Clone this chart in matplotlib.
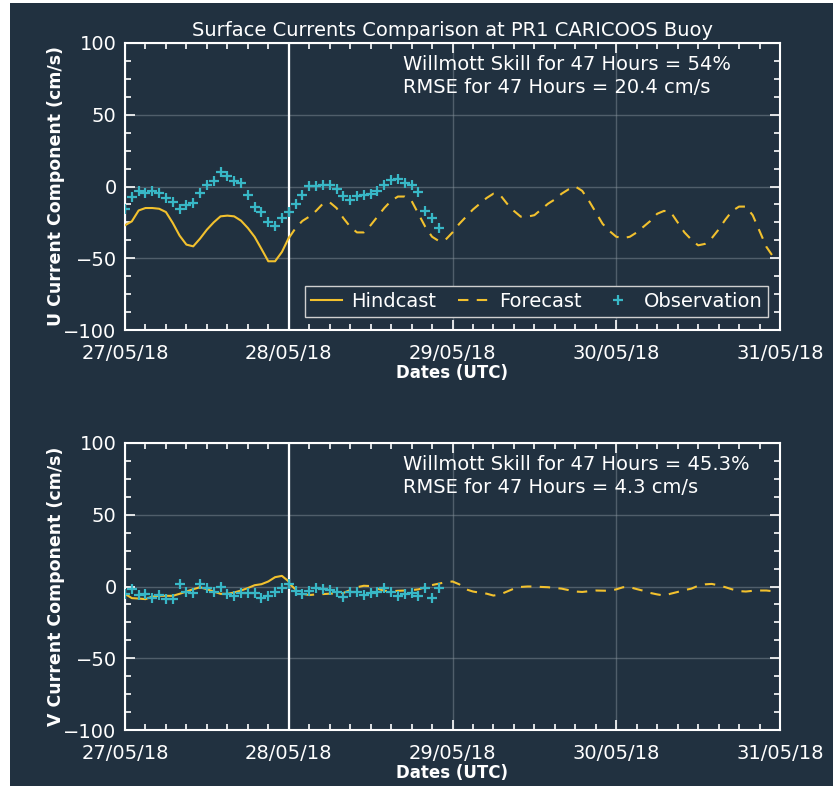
import numpy as np
import pandas as pd
import matplotlib
matplotlib.use("Agg")
import matplotlib.pyplot as plt
import matplotlib.dates as mdates
from matplotlib.patches import Rectangle

# ---- data -----------------------------------------------------------------
start = pd.Timestamp("2018-05-27 00:00")

# hourly observations at the buoy (hours 0..46)
u_obs = [-15.5, -7.2, -2.8, -4.2, -2.8, -4.2, -7.8, -10.9, -16.0, -13.0,
         -11.6, -4.2, 1.0, 3.7, 10.4, 7.4, 4.0, 2.1, -5.6, -14.6,
         -17.8, -24.7, -27.8, -21.9, -17.7, -12.2, -5.6, 0.3, 0.3, 1.0,
         1.0, -1.4, -6.5, -9.5, -6.5, -5.6, -5.1, -2.8, 1.0, 4.6,
         5.3, 2.3, 1.0, -3.7, -16.9, -21.9, -29.2]
v_obs = [-5.1, -1.6, -6.0, -5.1, -8.1, -6.0, -8.8, -8.8, 1.4, -3.9,
         -4.6, 1.4, -1.1, -3.7, -0.5, -5.1, -6.7, -4.6, -4.6, -4.6,
         -8.1, -6.7, -3.7, -0.8, 1.6, -3.3, -5.3, -3.3, -0.7, -1.6,
         -2.3, -3.9, -7.4, -3.9, -3.9, -6.0, -4.6, -3.7, -1.1, -3.9,
         -6.7, -5.3, -4.6, -6.7, -1.1, -8.1, -0.7]

# model hindcast (hours 0..24)
u_hind = [-27.0, -24.3, -16.7, -15.0, -15.0, -15.5, -17.8, -25.4, -34.2, -40.5,
          -41.7, -36.3, -30.1, -25.0, -20.8, -20.3, -20.8, -23.8, -28.9, -35.1,
          -43.5, -52.1, -52.1, -45.6, -35.8]
v_hind = [-5.1, -8.1, -8.4, -8.8, -7.0, -6.5, -6.5, -6.5, -5.1, -3.5,
          -1.9, -0.5, -1.9, -3.5, -5.1, -5.1, -4.2, -2.8, -1.1, 0.9,
          1.6, 3.5, 6.5, 7.4, 3.5]

# model forecast (hours 24..95)
u_fore = [-36, -29, -24, -21, -17, -12, -11, -15, -22, -28,
          -32, -32, -27, -21, -15, -10, -7, -7, -10, -19,
          -28, -35, -38, -37, -32, -26, -21, -16, -12, -8,
          -5, -6, -12, -17, -21, -21, -20, -16, -12, -9,
          -5, -2, 0, -3, -10, -18, -26, -31, -35, -36,
          -35, -32, -28, -24, -19, -17, -18, -25, -32, -37,
          -41, -40, -36, -30, -23, -17, -14, -14, -20, -31,
          -42, -49]
v_fore = [2.3, -2.0, -5.0, -6.0, -5.5, -5.3, -5.0, -4.8, -4.5, -2.5,
          -0.5, 0.5, 0.3, -1.5, -3.0, -3.3, -3.0, -2.8, -2.5, -2.0,
          -0.5, 1.0, 2.0, 3.0, 3.5, 1.5, -2.0, -3.5, -4.3, -5.0,
          -6.3, -5.5, -3.5, -1.5, -0.3, 0.0, 0.0, -0.3, -0.5, -1.0,
          -1.5, -2.5, -3.5, -3.8, -3.3, -2.8, -2.9, -3.0, -2.0, -0.5,
          -0.5, -1.8, -3.0, -4.5, -5.5, -6.3, -5.0, -3.8, -2.5, -1.5,
          0.5, 1.5, 1.8, 0.8, -0.5, -2.0, -3.2, -3.5, -3.0, -2.8,
          -2.8, -3.3]

t_obs = start + pd.to_timedelta(np.arange(len(u_obs)), unit="h")
t_hind = start + pd.to_timedelta(np.arange(len(u_hind)), unit="h")
t_fore = start + pd.to_timedelta(np.arange(24, 24 + len(u_fore)), unit="h")
t_now = start + pd.Timedelta(hours=24)

panels = [
    ("U Current Component (cm/s)", u_hind, u_fore, u_obs,
     "Willmott Skill for 47 Hours = 54%", "RMSE for 47 Hours = 20.4 cm/s"),
    ("V Current Component (cm/s)", v_hind, v_fore, v_obs,
     "Willmott Skill for 47 Hours = 45.3%", "RMSE for 47 Hours = 4.3 cm/s"),
]

# ---- style ----------------------------------------------------------------
BG = "#213140"
FG = "#ffffff"
YEL = "#f2c12e"
CYA = "#38b7c6"
plt.rcParams["font.family"] = ["DejaVu Sans"]

W, H = 833, 786
fig = plt.figure(figsize=(W / 100, H / 100), dpi=100, facecolor="white")
fig.patches.append(Rectangle((10 / W, 0), 1 - 10 / W, 1 - 3 / H,
                             transform=fig.transFigure, facecolor=BG,
                             edgecolor="none", zorder=-10))

left, width, height = 125 / W, 655 / W, 287 / H
bottoms = [1 - 330 / H, 1 - 730 / H]

for i, (ylab, hind, fore, obs, txt1, txt2) in enumerate(panels):
    ax = fig.add_axes([left, bottoms[i], width, height])
    ax.set_facecolor(BG)
    ax.grid(True, which="major", color="#8a96a0", alpha=0.45, linewidth=1.0)
    ax.set_axisbelow(True)
    ax.axvline(t_now, color=FG, linewidth=1.6, zorder=2)

    l1, = ax.plot(t_hind, hind, color=YEL, linewidth=1.5, label="Hindcast", zorder=3)
    l2, = ax.plot(t_fore, fore, color=YEL, linewidth=1.5, linestyle=(0, (5, 4)),
                  label="Forecast", zorder=3)
    l3, = ax.plot(t_obs, obs, linestyle="none", marker="+", markersize=6.5,
                  markeredgewidth=1.6, color=CYA, label="Observation", zorder=4)

    ax.set_xlim(start, start + pd.Timedelta(days=4))
    ax.set_ylim(-100, 100)
    ax.set_yticks([-100, -50, 0, 50, 100])
    ax.yaxis.set_minor_locator(matplotlib.ticker.MultipleLocator(12.5))
    ax.xaxis.set_major_locator(mdates.DayLocator())
    ax.xaxis.set_major_formatter(mdates.DateFormatter("%d/%m/%y"))
    ax.xaxis.set_minor_locator(mdates.HourLocator(byhour=range(0, 24, 3)))

    for s in ax.spines.values():
        s.set_color(FG)
        s.set_linewidth(1.5)
    ax.tick_params(which="both", direction="in", top=True, right=True,
                   colors=FG, labelcolor=FG, width=1.2)
    ax.tick_params(which="major", length=7, labelsize=14)
    ax.tick_params(which="minor", length=4)
    ax.tick_params(axis="x", which="major", pad=10)
    ax.tick_params(axis="y", which="major", pad=6)

    ax.set_ylabel(ylab, color=FG, fontsize=12.5, fontweight="bold", labelpad=-1)
    ax.set_xlabel("Dates (UTC)", color=FG, fontsize=12, fontweight="bold", labelpad=1)

    ax.text(0.424, 0.925, txt1, transform=ax.transAxes, color=FG, fontsize=14,
            va="center", ha="left")
    ax.text(0.424, 0.845, txt2, transform=ax.transAxes, color=FG, fontsize=14,
            va="center", ha="left")

    if i == 0:
        ax.set_title("Surface Currents Comparison at PR1 CARICOOS Buoy",
                     color=FG, fontsize=14, pad=5)
        leg = ax.legend(handles=[l1, l2, l3], loc="lower right", ncol=3,
                        bbox_to_anchor=(0.982, 0.045), fontsize=14,
                        frameon=True, fancybox=False, facecolor=BG,
                        edgecolor="#d0d0d0", framealpha=1, handlelength=1.6,
                        columnspacing=1.1, handletextpad=0.5,
                        borderpad=0.3, borderaxespad=0)
        leg.get_frame().set_linewidth(1.0)
        for t in leg.get_texts():
            t.set_color(FG)

fig.savefig("out.png", dpi=100, facecolor=fig.get_facecolor())
